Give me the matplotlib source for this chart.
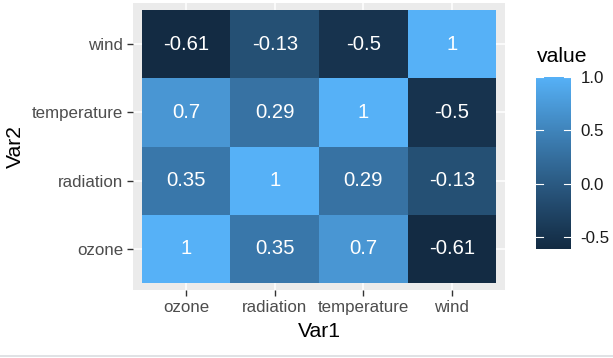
import matplotlib
matplotlib.use('Agg')
import matplotlib.pyplot as plt
import numpy as np
from matplotlib.colors import ListedColormap

plt.rcParams['font.family'] = ['Liberation Sans', 'DejaVu Sans']

var_names = ['ozone', 'radiation', 'temperature', 'wind']
# correlation matrix, rows = Var2, cols = Var1
corr = [[1.00, 0.35, 0.70, -0.61],
        [0.35, 1.00, 0.29, -0.13],
        [0.70, 0.29, 1.00, -0.50],
        [-0.61, -0.13, -0.50, 1.00]]
bar_ticks = [-0.5, 0.0, 0.5, 1.0]


def srgb_to_lab(rgb):
    c = np.array(rgb, dtype=float)
    c = np.where(c > 0.04045, ((c + 0.055) / 1.055) ** 2.4, c / 12.92)
    m = np.array([[0.4124, 0.3576, 0.1805],
                  [0.2126, 0.7152, 0.0722],
                  [0.0193, 0.1192, 0.9505]])
    xyz = m @ c / np.array([0.95047, 1.0, 1.08883])
    f = np.where(xyz > 0.008856, np.cbrt(xyz), 7.787 * xyz + 16 / 116)
    return np.array([116 * f[1] - 16, 500 * (f[0] - f[1]), 200 * (f[1] - f[2])])


def lab_to_srgb(lab):
    fy = (lab[0] + 16) / 116
    fx = fy + lab[1] / 500
    fz = fy - lab[2] / 200
    f = np.array([fx, fy, fz])
    xyz = np.where(f ** 3 > 0.008856, f ** 3, (f - 16 / 116) / 7.787)
    xyz = xyz * np.array([0.95047, 1.0, 1.08883])
    m = np.array([[3.2406, -1.5372, -0.4986],
                  [-0.9689, 1.8758, 0.0415],
                  [0.0557, -0.2040, 1.0570]])
    c = m @ xyz
    c = np.where(c > 0.0031308, 1.055 * np.clip(c, 0, None) ** (1 / 2.4) - 0.055, 12.92 * c)
    return np.clip(c, 0, 1)


low = srgb_to_lab(matplotlib.colors.to_rgb('#132B43'))
high = srgb_to_lab(matplotlib.colors.to_rgb('#56B1F7'))
cmap = ListedColormap([lab_to_srgb(low + (high - low) * t) for t in np.linspace(0, 1, 256)])

data = np.array(corr)
vmin, vmax = data.min(), data.max()
n = len(var_names)

fig = plt.figure(figsize=(6.13, 3.58), dpi=100)
ax = fig.add_axes([133 / 613, 68 / 358, 372 / 613, 287 / 358])
ax.set_facecolor('#EBEBEB')
ax.pcolormesh(np.arange(n + 1) + 0.5, np.arange(n + 1) + 0.5, data,
              cmap=cmap, vmin=vmin, vmax=vmax, zorder=2)
for i in range(n):
    for j in range(n):
        ax.text(j + 1, i + 1, f'{data[i, j]:g}', ha='center', va='center',
                color='white', fontsize=14.6, zorder=3)
ax.set_xlim(0.4, n + 0.6)
ax.set_ylim(0.4, n + 0.6)
ax.set_xticks(np.arange(1, n + 1))
ax.set_yticks(np.arange(1, n + 1))
ax.set_xticklabels(var_names)
ax.set_yticklabels(var_names)
ax.grid(True, color='white', linewidth=1.1, zorder=1)
ax.set_axisbelow(True)
for s in ax.spines.values():
    s.set_visible(False)
ax.tick_params(length=4, width=1, color='#333333', labelcolor='#4D4D4D',
               labelsize=12.2, pad=3)
ax.set_xlabel('Var1', fontsize=15.2, labelpad=5)
ax.set_ylabel('Var2', fontsize=15.2, labelpad=5)

# colour bar in ggplot style
cax = fig.add_axes([536 / 613, 109 / 358, 35 / 613, 172 / 358])
grad = np.linspace(vmin, vmax, 300)[:, None]
cax.imshow(grad, aspect='auto', cmap=cmap, vmin=vmin, vmax=vmax,
           extent=[0, 1, vmin, vmax], origin='lower')
cax.set_xlim(0, 1)
cax.set_ylim(vmin, vmax)
for v in bar_ticks:
    cax.plot([0, 0.2], [v, v], color='white', linewidth=0.8)
    cax.plot([0.8, 1], [v, v], color='white', linewidth=0.8)
cax.set_xticks([])
cax.yaxis.tick_right()
cax.set_yticks(bar_ticks)
cax.set_yticklabels([f'{v:.1f}' for v in bar_ticks])
cax.tick_params(length=0, labelsize=12.2, labelcolor='#1A1A1A', pad=7)
for s in cax.spines.values():
    s.set_visible(False)
fig.text(537 / 613, 1 - 57 / 358, 'value', fontsize=15.2, va='center', ha='left')

# thin page border at the bottom
fig.add_artist(plt.Line2D([0, 1], [2.5 / 358, 2.5 / 358], color='#DADDE0', linewidth=1.2))

fig.savefig('out.png', dpi=100)
